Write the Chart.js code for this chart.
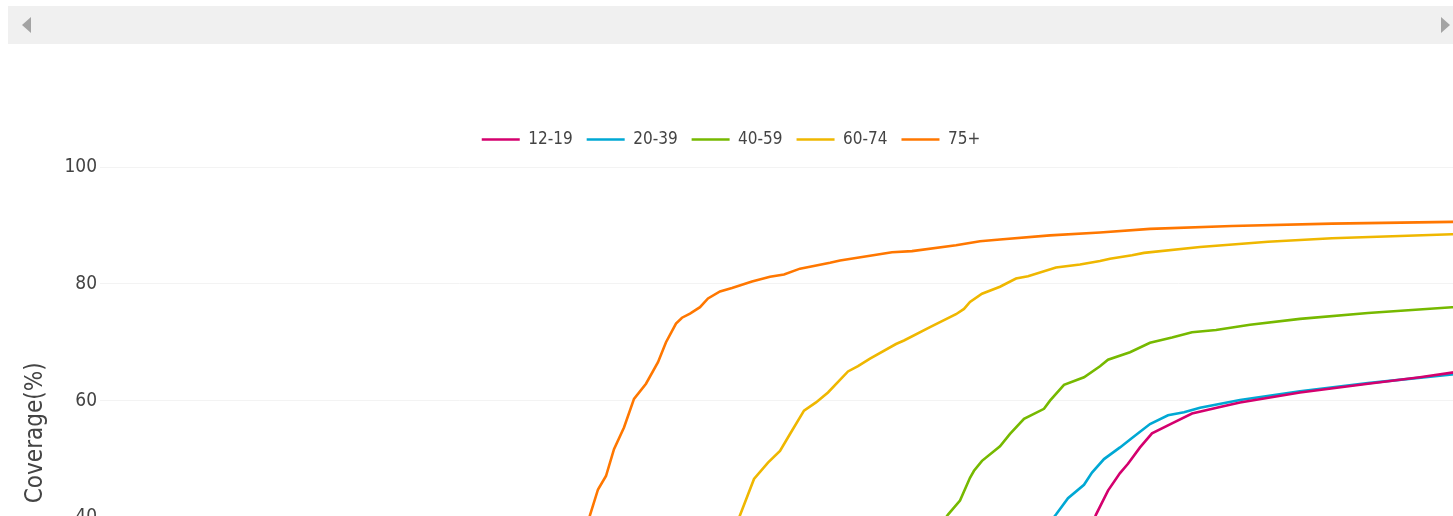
<!DOCTYPE html>
<html>
<head>
<meta charset="utf-8">
<script src="https://cdn.jsdelivr.net/npm/chart.js@4"></script>
<style>
  html, body { margin: 0; padding: 0; background: #fff; overflow: hidden; width: 1453px; height: 516px; }
  #scrollbar { position: absolute; left: 8px; top: 6px; width: 1460px; height: 38px; background: #f0f0f0; z-index: 2; }
  .arrow-l { position: absolute; left: 14px; top: 11px; width: 0; height: 0;
    border-top: 8.5px solid transparent; border-bottom: 8.5px solid transparent; border-right: 9px solid #a3a3a3; }
  .arrow-r { position: absolute; left: 1433px; top: 11px; width: 0; height: 0;
    border-top: 8.5px solid transparent; border-bottom: 8.5px solid transparent; border-left: 9px solid #a3a3a3; }
  #wrap { position: absolute; left: 0; top: 0; width: 1538px; height: 713px; z-index: 1; }
</style>
</head>
<body>
<div id="scrollbar"><div class="arrow-l"></div><div class="arrow-r"></div></div>
<div id="wrap"><canvas id="c"></canvas></div>
<script>
// ---- data (x = day index, y = coverage %) ----
const seriesNames = ['12-19', '20-39', '40-59', '60-74', '75+'];
const seriesColors = ['#d4006e', '#00a8d4', '#76b900', '#efb700', '#ff7700'];

const days1219 = [494, 498, 504, 510, 514, 520, 526, 536, 546, 560, 570, 600, 634, 660, 676, 700];
const cov1219  = [37.0, 40.5, 44.6, 47.6, 49.2, 52.0, 54.4, 56.1, 57.8, 58.9, 59.7, 61.4, 62.9, 64.0, 64.8, 65.6];

const days2039 = [470, 478, 484, 492, 496, 502, 510, 516, 525, 534, 542, 550, 570, 600, 634, 676, 700];
const cov2039  = [37.0, 40.5, 43.3, 45.6, 47.7, 50.0, 52.0, 53.6, 56.0, 57.5, 58.0, 58.8, 60.1, 61.6, 63.0, 64.5, 65.2];

const days4059 = [418, 424, 430, 435, 437, 441, 450, 455, 462, 472, 475, 482, 492, 500, 504, 515, 525, 536, 546, 558, 575, 600, 634, 676, 700];
const cov4059  = [37.5, 40.5, 42.9, 46.8, 48.0, 49.7, 52.2, 54.3, 56.9, 58.6, 60.0, 62.7, 64.0, 65.9, 67.0, 68.3, 69.9, 70.8, 71.7, 72.1, 73.0, 74.0, 75.0, 76.0, 76.4];

const days6074 = [310, 320, 327, 334, 340, 345, 352, 358, 364, 374, 379, 385, 398, 402, 415, 428, 432, 435, 441, 450, 458, 464, 478, 490, 500, 505, 516, 522, 550, 584, 616, 650, 676, 700];
const cov6074  = [32.0, 40.4, 46.6, 49.4, 51.4, 54.3, 58.3, 59.7, 61.4, 65.0, 65.9, 67.2, 69.7, 70.3, 72.6, 74.8, 75.7, 76.9, 78.3, 79.5, 80.9, 81.3, 82.8, 83.3, 83.9, 84.3, 84.9, 85.3, 86.3, 87.2, 87.8, 88.2, 88.5, 88.7];

const days75 = [238, 245, 249, 253, 257, 262, 267, 273, 279, 283, 288, 291, 295, 300, 304, 310, 316, 326, 335, 342, 350, 365, 370, 385, 396, 406, 428, 440, 450, 475, 500, 525, 566, 616, 676, 700];
const cov75  = [32.0, 40.4, 44.8, 47.1, 51.7, 55.4, 60.3, 62.9, 66.6, 70.0, 73.2, 74.2, 74.9, 76.0, 77.5, 78.7, 79.3, 80.4, 81.2, 81.6, 82.6, 83.6, 84.0, 84.8, 85.4, 85.6, 86.6, 87.3, 87.6, 88.3, 88.8, 89.4, 89.9, 90.3, 90.6, 90.8];

const yTicks = [20, 40, 60, 80, 100];
const yTitle = 'Coverage(%)';

function pts(xs, ys) { return xs.map((x, i) => ({ x: x, y: ys[i] })); }
const allDays = [days1219, days2039, days4059, days6074, days75];
const allCov = [cov1219, cov2039, cov4059, cov6074, cov75];

const FONT = "'DejaVu Sans Condensed', 'DejaVu Sans', sans-serif";

const datasets = seriesNames.map((name, i) => ({
  label: name,
  data: pts(allDays[i], allCov[i]),
  borderColor: seriesColors[i],
  backgroundColor: seriesColors[i],
  borderWidth: 2.6,
  pointRadius: 0,
  tension: 0,
  fill: false
}));

const legendPlacePlugin = {
  id: 'legendPlace',
  beforeLayout(chart) {
    const lg = chart.legend;
    if (lg && !lg._patched) {
      const orig = lg.fit.bind(lg);
      lg.fit = function () { orig(); this.height = 50; };
      lg._patched = true;
    }
  },
  afterLayout(chart) {
    const lg = chart.legend;
    if (lg) { lg.right -= 96; lg.adjustHitBoxes && lg.adjustHitBoxes(); }
  }
};

new Chart(document.getElementById('c'), {
  type: 'line',
  data: { datasets },
  plugins: [legendPlacePlugin],
  options: {
    responsive: true,
    maintainAspectRatio: false,
    animation: false,
    layout: { padding: { left: 20, right: 0, top: 117, bottom: 12 } },
    plugins: {
      legend: {
        display: true,
        position: 'top',
        labels: {
          usePointStyle: true,
          pointStyle: 'line',
          pointStyleWidth: 38,
          padding: 14,
          color: '#444',
          font: { family: FONT, size: 17 }
        }
      },
      tooltip: { enabled: false }
    },
    scales: {
      x: {
        type: 'linear',
        min: 0,
        max: 719,
        display: false,
        grid: { display: false }
      },
      y: {
        type: 'linear',
        min: 9,
        max: 100,
        afterFit(scale) { scale.width = 80; },
        afterBuildTicks(scale) { scale.ticks = yTicks.map(v => ({ value: v })); },
        border: { display: false },
        grid: { color: '#f3f3f3', lineWidth: 1, drawTicks: false },
        ticks: { color: '#444', padding: 3, font: { family: FONT, size: 19 } },
        title: { display: true, text: yTitle, color: '#444', font: { family: FONT, size: 24 }, padding: { top: 1, bottom: 4 } }
      }
    }
  }
});
</script>
</body>
</html>
